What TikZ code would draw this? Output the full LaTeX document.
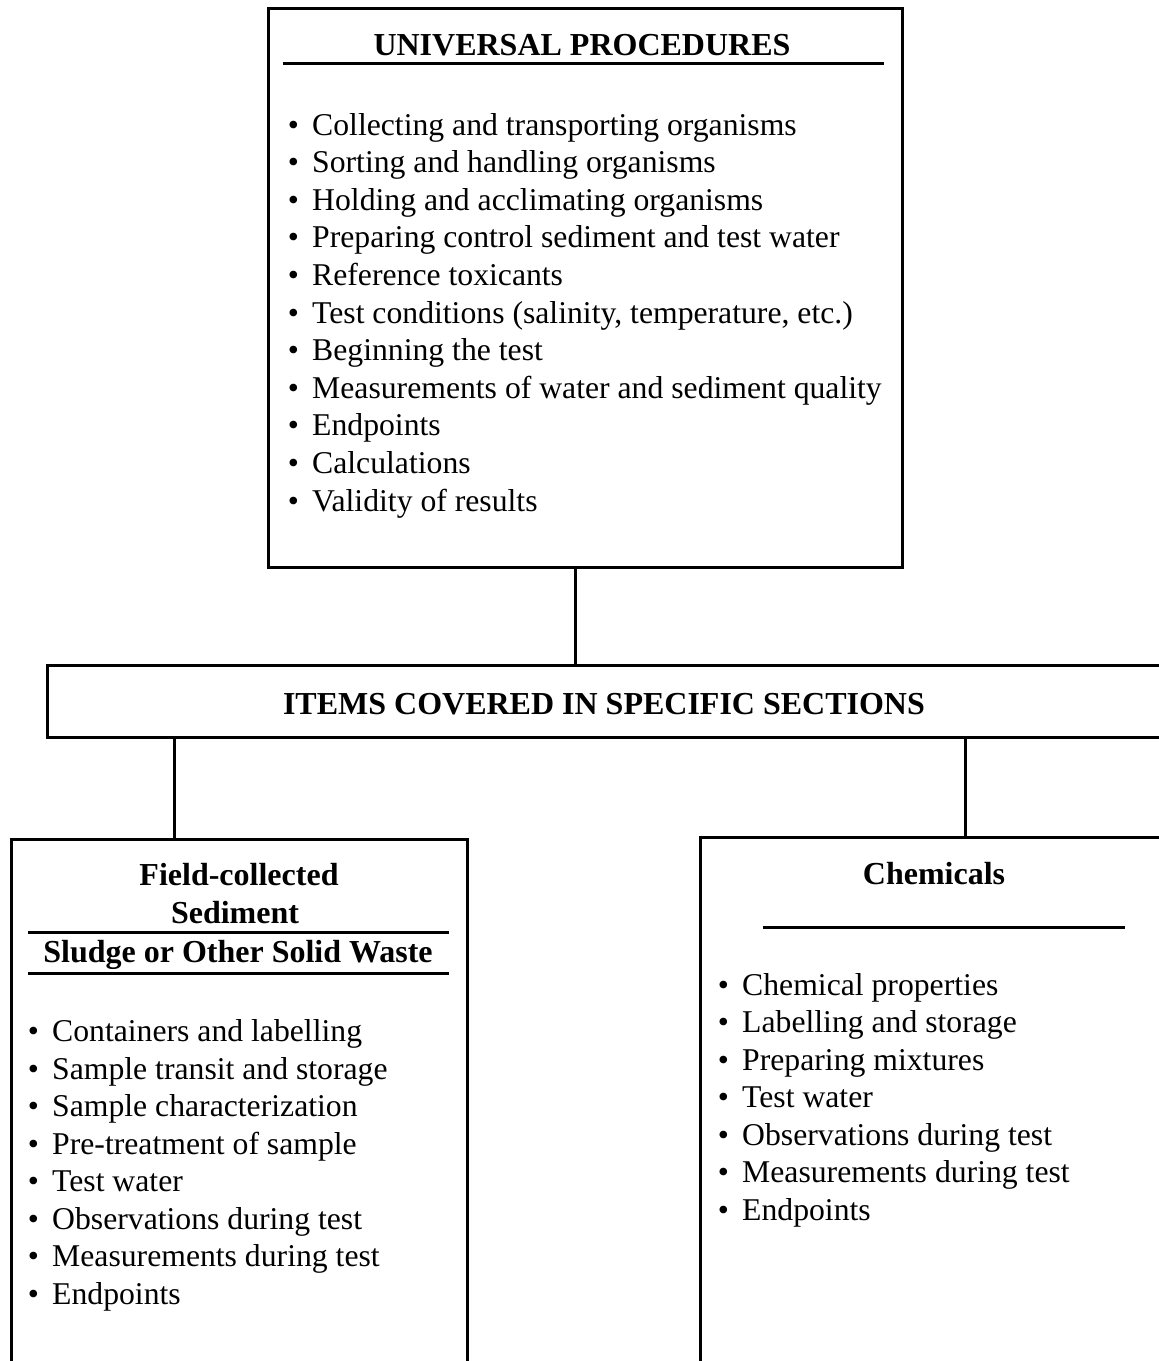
\documentclass[tikz,border=0pt]{standalone}
\usepackage{fontspec}
\setmainfont{Liberation Serif}
\begin{document}
\begin{tikzpicture}[x=1pt,y=-1pt,
  frame/.style={draw, line width=3pt, inner sep=0pt, outer sep=0pt},
  rulerline/.style={line width=3pt},
  link/.style={line width=3pt},
  head/.style={font=\fontsize{32}{38}\selectfont\bfseries, inner sep=0pt, anchor=base},
  item/.style={font=\fontsize{31.7}{38}\selectfont, inner sep=0pt, anchor=base west},
  dotmark/.style={font=\fontsize{31.7}{38}\selectfont, inner sep=0pt, anchor=base}]
\clip (0,0) rectangle (1159,1361);
\fill[white] (0,0) rectangle (1159,1361);

% boxes
\node[frame, minimum width=634pt, minimum height=559pt] (univ) at (585,287.5) {};
\node[frame, minimum width=1153pt, minimum height=72pt] (bar) at (623.5,701) {};
\node[frame, minimum width=456pt, minimum height=600pt] (field) at (239,1139) {};
\node[frame, minimum width=500pt, minimum height=600pt] (chem) at (950,1137) {};

% connectors
\draw[link] ([xshift=-10pt]univ.south) -- ([xshift=-10pt]univ.south |- bar.north);
\draw[link] ([xshift=-65pt]field.north) -- ([xshift=-65pt]field.north |- bar.south);
\draw[link] ([xshift=15pt]chem.north) -- ([xshift=15pt]chem.north |- bar.south);

% top box
\node[head] (t1) at (582,55) {UNIVERSAL PROCEDURES};
\draw[rulerline] (283,63) -- (884,63);
\foreach \t [count=\i from 0] in {Collecting and transporting organisms,
  Sorting and handling organisms,
  Holding and acclimating organisms,
  Preparing control sediment and test water,
  Reference toxicants,
  {Test conditions (salinity, temperature, etc.)},
  Beginning the test,
  Measurements of water and sediment quality,
  Endpoints,
  Calculations,
  Validity of results} {
  \node[dotmark] (ub\i) at (293.5,135+37.6*\i) {\textbullet};
  \node[item] (ui\i) at (312,135+37.6*\i) {\t};
}

% bar
\node[head] (t2) at (604,714) {ITEMS COVERED IN SPECIFIC SECTIONS};

% left box
\node[head] (f1) at (239,885) {Field-collected};
\node[head] (f2) at (235,923) {Sediment};
\draw[rulerline] (28,932) -- (449,932);
\node[head] (f3) at (238,962) {Sludge or Other Solid Waste};
\draw[rulerline] (28,973) -- (449,973);
\foreach \t [count=\i from 0] in {Containers and labelling,
  Sample transit and storage,
  Sample characterization,
  Pre-treatment of sample,
  Test water,
  Observations during test,
  Measurements during test,
  Endpoints} {
  \node[dotmark] (lb\i) at (33.5,1041.7+37.5*\i) {\textbullet};
  \node[item] (li\i) at (52,1041.7+37.5*\i) {\t};
}

% right box
\node[head] (c1) at (934,884) {Chemicals};
\draw[rulerline] (763,927) -- (1125,927);
\foreach \t [count=\i from 0] in {Chemical properties,
  Labelling and storage,
  Preparing mixtures,
  Test water,
  Observations during test,
  Measurements during test,
  Endpoints} {
  \node[dotmark] (rb\i) at (723.5,995+37.5*\i) {\textbullet};
  \node[item] (ri\i) at (742,995+37.5*\i) {\t};
}
\end{tikzpicture}
\end{document}
